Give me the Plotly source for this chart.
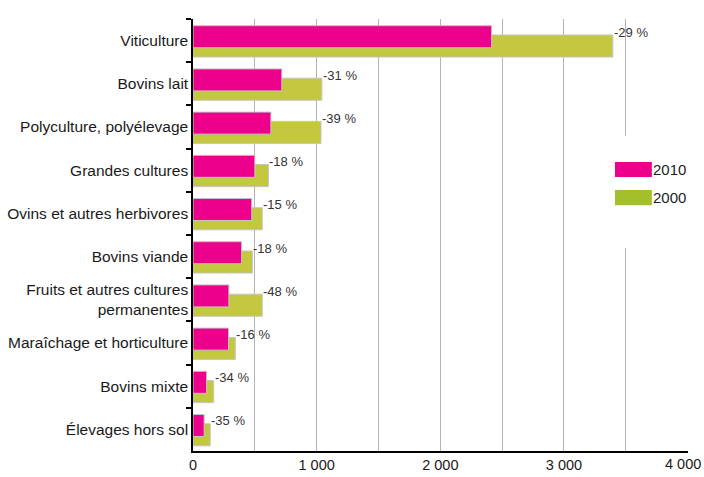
import plotly.graph_objects as go

categories = [
    "Viticulture",
    "Bovins lait",
    "Polyculture, polyélevage",
    "Grandes cultures",
    "Ovins et autres herbivores",
    "Bovins viande",
    "Fruits et autres cultures<br>permanentes",
    "Maraîchage et horticulture",
    "Bovins mixte",
    "Élevages hors sol",
]
values_2010 = [2415, 718, 630, 500, 475, 393, 290, 287, 110, 90]
values_2000 = [3395, 1042, 1035, 610, 560, 480, 560, 342, 167, 139]
pct_labels = ["-29 %", "-31 %", "-39 %", "-18 %", "-15 %", "-18 %", "-48 %", "-16 %", "-34 %", "-35 %"]
years = ["2010", "2000"]
x_tickvals = [0, 1000, 2000, 3000, 4000]
x_ticktext = ["0", "1 000", "2 000", "3 000", "4 000"]

PINK = "#EC008C"
GREEN_BAR = "#C4C83E"
GREEN_LEG = "#A4BF2C"
FONT = "Liberation Sans, Arial, sans-serif"

fig = go.Figure()
fig.add_trace(go.Bar(
    y=categories, x=values_2000, orientation="h", name=years[1],
    marker=dict(color=GREEN_BAR, line=dict(color="#c4c4c4", width=1)),
    offset=-0.13, width=0.51, showlegend=False, hoverinfo="x+y",
))
fig.add_trace(go.Bar(
    y=categories, x=values_2010, orientation="h", name=years[0],
    marker=dict(color=PINK, line=dict(color="#c4c4c4", width=1)),
    offset=-0.345, width=0.51, showlegend=False, hoverinfo="x+y",
))

for c, v, t in zip(categories, values_2000, pct_labels):
    fig.add_annotation(x=v, y=c, text=t, showarrow=False, xanchor="left",
                       yanchor="middle", yshift=8.5, xshift=-1,
                       font=dict(family=FONT, size=13, color="#333333"))

# legend box drawn manually
fig.add_shape(type="rect", xref="paper", yref="paper", x0=0.83, x1=0.995, y0=0.47, y1=0.73,
              fillcolor="white", line=dict(width=0), layer="above")
leg = [(years[0], PINK, 0.669, 0.634), (years[1], GREEN_LEG, 0.604, 0.569)]
for name, col, y1, y0 in leg:
    fig.add_shape(type="rect", xref="paper", yref="paper", x0=0.8525, x1=0.927, y0=y0, y1=y1,
                  fillcolor=col, line=dict(width=0), layer="above")
    fig.add_annotation(xref="paper", yref="paper", x=0.927, y=(y0 + y1) / 2, text=name,
                       showarrow=False, xanchor="left", yanchor="middle", xshift=-1,
                       font=dict(family=FONT, size=15, color="#222222"))

# last tick label is drawn as an annotation so it stays inside the page (as in the source)
tick_text_shown = x_ticktext[:-1] + [""]
fig.add_annotation(x=x_tickvals[-1], xref="x", yref="paper", y=0, text=x_ticktext[-1],
                   showarrow=False, xanchor="right", yanchor="top", xshift=15, yshift=-3,
                   font=dict(family=FONT, size=14.5, color="#1a1a1a"))

fig.update_layout(
    width=704, height=477,
    margin=dict(l=193, r=16, t=19, b=26),
    paper_bgcolor="white", plot_bgcolor="white",
    barmode="overlay",
    font=dict(family=FONT, size=14, color="#1a1a1a"),
    showlegend=False,
)
fig.update_xaxes(
    range=[0, 4003], tickvals=x_tickvals, ticktext=tick_text_shown, automargin=False,
    ticklabeloverflow="allow",
    showgrid=True, gridcolor="#b4b4b4", gridwidth=1.3,
    minor=dict(dtick=500, showgrid=True, gridcolor="#b4b4b4", gridwidth=1.3),
    showline=True, linecolor="black", linewidth=2,
    zeroline=False, ticks="", tickfont=dict(size=14.5, color="#1a1a1a"),
    fixedrange=True,
)
fig.update_yaxes(
    autorange="reversed", type="category", automargin=False,
    showline=True, linecolor="black", linewidth=1.5,
    ticks="outside", tickson="boundaries", ticklen=5, tickcolor="black", tickwidth=1.5,
    showgrid=False, tickfont=dict(size=15.5, color="#1a1a1a"),
    fixedrange=True,
)

fig.write_html(
    "out.html",
    config={"displayModeBar": False},
    post_script="document.body.style.margin='0';document.body.style.padding='0';document.body.style.overflow='hidden';",
)
